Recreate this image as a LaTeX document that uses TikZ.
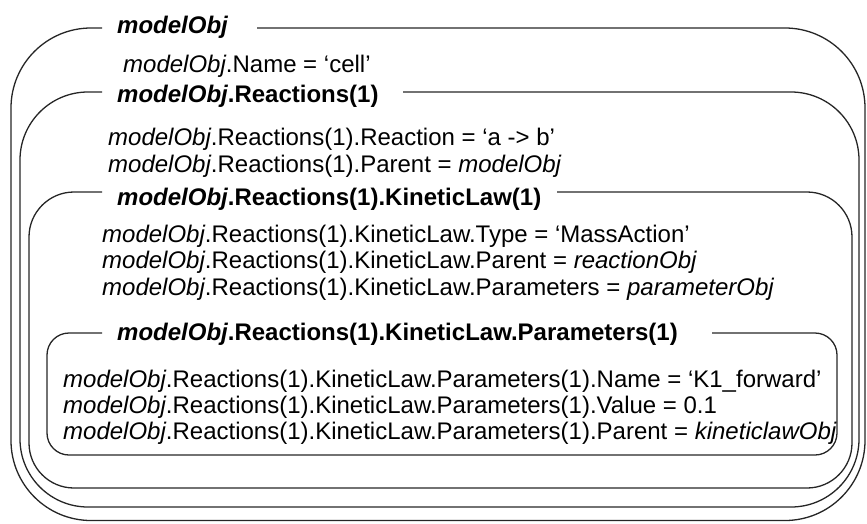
\documentclass[tikz,border=0pt]{standalone}
\usepackage{fontspec}
\setmainfont{Liberation Sans}
\begin{document}
\begin{tikzpicture}[x=1pt,y=-1pt,
  box/.style={draw=black!85, line width=1.3pt},
  txt/.style={anchor=base west, inner sep=0pt, font=\fontsize{24}{26}\selectfont},
  ttl/.style={anchor=base west, inner sep=0pt, font=\fontsize{24}{26}\selectfont\bfseries}]
\useasboundingbox (0,0) rectangle (867,523);
% boxes
\draw[box, rounded corners=80pt] (257,28) -- (865,28) -- (865,520.5) -- (11,520.5) -- (11,28) -- (102,28);
\draw[box, rounded corners=68pt] (403,92) -- (859,92) -- (859,507) -- (20,507) -- (20,92) -- (102,92);
\draw[box, rounded corners=45pt] (557,192) -- (852,192) -- (852,488) -- (29,488) -- (29,192) -- (102,192);
\draw[box, rounded corners=22pt] (712,333) -- (837,333) -- (837,455) -- (47,455) -- (47,333) -- (102,333);
% texts
\node[ttl] (t1) at (117,33) {\itshape modelObj};
\node[txt] (n1) at (123,72) {\textit{modelObj}.Name = ‘cell’};
\node[ttl] (t2) at (117,102) {\textit{modelObj}.Reactions(1)};
\node[txt] (r1) at (108,145) {\textit{modelObj}.Reactions(1).Reaction = ‘a -> b’};
\node[txt] (r2) at (108,172) {\textit{modelObj}.Reactions(1).Parent = \textit{modelObj}};
\node[ttl] (t3) at (117,205) {\textit{modelObj}.Reactions(1).KineticLaw(1)};
\node[txt] (k1) at (102,242) {\textit{modelObj}.Reactions(1).KineticLaw.Type = ‘MassAction’};
\node[txt] (k2) at (102,268) {\textit{modelObj}.Reactions(1).KineticLaw.Parent = \textit{reactionObj}};
\node[txt] (k3) at (102,295) {\textit{modelObj}.Reactions(1).KineticLaw.Parameters = \textit{parameterObj}};
\node[ttl] (t4) at (117,340) {\textit{modelObj}.Reactions(1).KineticLaw.Parameters(1)};
\node[txt] (p1) at (63,387) {\textit{modelObj}.Reactions(1).KineticLaw.Parameters(1).Name = ‘K1\_forward’};
\node[txt] (p2) at (63,413) {\textit{modelObj}.Reactions(1).KineticLaw.Parameters(1).Value = 0.1};
\node[txt] (p3) at (63,439) {\textit{modelObj}.Reactions(1).KineticLaw.Parameters(1).Parent = \textit{kineticlawObj}};
\end{tikzpicture}
\end{document}
